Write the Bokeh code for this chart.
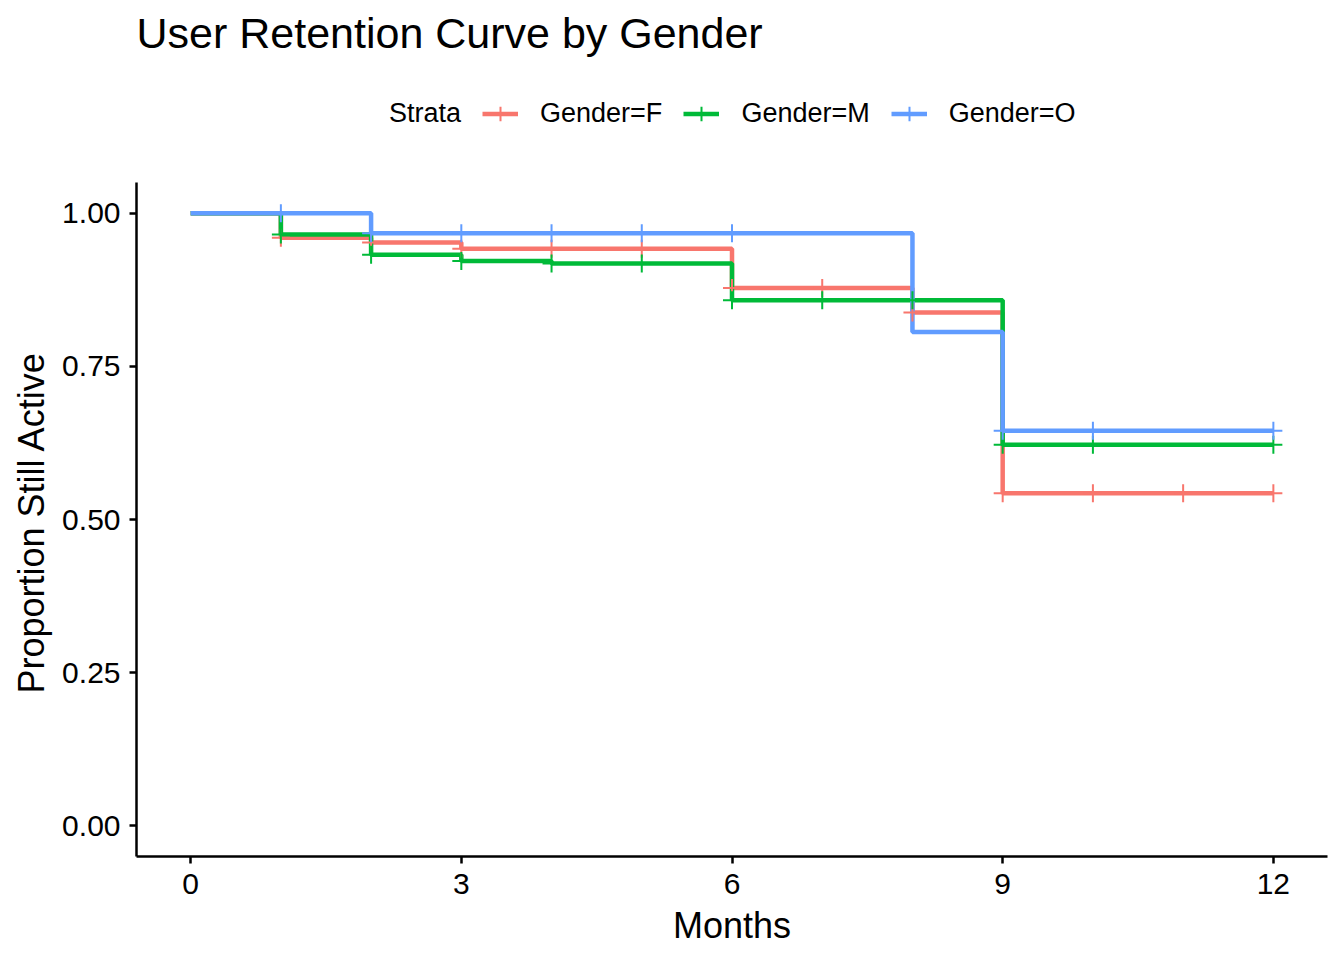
from bokeh.plotting import figure
from bokeh.models import Legend, LegendItem, FixedTicker, PrintfTickFormatter, Range1d, Label, Title
from bokeh.embed import file_html
from bokeh.resources import INLINE

FONT = "Liberation Sans"

title_text = "User Retention Curve by Gender"
x_label = "Months"
y_label = "Proportion Still Active"
legend_title = "Strata"
groups = ["Gender=F", "Gender=M", "Gender=O"]
colors = ["#F8766D", "#00BA38", "#619CFF"]

# step curves (time, survival)
f_time = [0, 1, 2, 3, 6, 8, 9, 12]
f_surv = [1.0, 0.960, 0.952, 0.942, 0.878, 0.838, 0.543, 0.543]
m_time = [0, 1, 2, 3, 4, 6, 9, 12]
m_surv = [1.0, 0.965, 0.932, 0.922, 0.918, 0.858, 0.622, 0.622]
o_time = [0, 2, 8, 9, 12]
o_surv = [1.0, 0.967, 0.806, 0.645, 0.645]

# censor marks
f_cens_time = [1, 2, 3, 4, 5, 6, 7, 8, 9, 10, 11, 12]
f_cens_surv = [0.960, 0.952, 0.942, 0.942, 0.942, 0.878, 0.878, 0.838, 0.543, 0.543, 0.543, 0.543]
m_cens_time = [1, 2, 3, 4, 5, 6, 7, 8, 9, 10, 12]
m_cens_surv = [0.965, 0.932, 0.922, 0.918, 0.918, 0.858, 0.858, 0.858, 0.622, 0.622, 0.622]
o_cens_time = [1, 2, 3, 4, 5, 6, 9, 10, 12]
o_cens_surv = [1.0, 0.967, 0.967, 0.967, 0.967, 0.967, 0.645, 0.645, 0.645]

x_ticks = [0, 3, 6, 9, 12]
y_ticks = [0.0, 0.25, 0.5, 0.75, 1.0]

# layout (pixels)
W, H = 1344, 960
LEFT, RIGHT, BOTTOM = 136, 17, 104
PANEL_TOP = 182                       # top of the data panel
y_lo, y_hi = -0.05, 1.05
frame_h = H - BOTTOM                  # frame runs to the top of the canvas
px_per_unit = (frame_h - PANEL_TOP) / (y_hi - y_lo)
y_end = y_hi + PANEL_TOP / px_per_unit

p = figure(width=W, height=H, output_backend="svg", toolbar_location=None,
           x_range=Range1d(-0.6, 12.6), y_range=Range1d(y_lo, y_end),
           min_border_left=LEFT, min_border_right=RIGHT, min_border_top=0, min_border_bottom=BOTTOM)
p.title.text = ""

curves = [(f_time, f_surv), (m_time, m_surv), (o_time, o_surv)]
cens = [(f_cens_time, f_cens_surv), (m_cens_time, m_cens_surv), (o_cens_time, o_cens_surv)]

lines = []
for (t, s), c in zip(curves, colors):
    lines.append(p.step(t, s, mode="after", line_width=4.5, line_color=c))
marks = []
for (t, s), c in zip(cens, colors):
    marks.append(p.scatter(t, s, marker="cross", size=18, line_width=2, line_color=c))

# invisible placeholder so the legend title sits to the left of the items
blank = p.line([], [], line_alpha=0)

items = [LegendItem(label=legend_title, renderers=[blank])]
items += [LegendItem(label=g, renderers=[l, m]) for g, l, m in zip(groups, lines, marks)]
legend = Legend(items=items, orientation="horizontal", location=(195, frame_h - 113 - 22.5),
                border_line_color=None, background_fill_alpha=0,
                label_text_font=FONT, label_text_font_size="27px", label_text_color="black",
                glyph_width=36, glyph_height=45, label_standoff=22, spacing=21,
                padding=0, margin=0)
p.add_layout(legend, "center")

title = Label(x=0, y=frame_h - 32, x_units="screen", y_units="screen", text=title_text,
              text_font=FONT, text_font_size="43px", text_color="black",
              text_baseline="alphabetic", text_align="left")
p.add_layout(title)

p.xgrid.visible = False
p.ygrid.visible = False
p.outline_line_color = None

for ax in (p.xaxis[0], p.yaxis[0]):
    ax.axis_line_width = 2.5
    ax.axis_line_color = "black"
    ax.major_tick_line_width = 2.5
    ax.major_tick_line_color = "black"
    ax.major_tick_out = 7
    ax.major_tick_in = 0
    ax.minor_tick_line_color = None
    ax.major_label_text_font = FONT
    ax.major_label_text_font_size = "30px"
    ax.major_label_text_color = "black"
    ax.axis_label_text_font = FONT
    ax.axis_label_text_font_size = "36px"
    ax.axis_label_text_font_style = "normal"
    ax.axis_label_text_color = "black"

p.yaxis.bounds = (y_lo, y_hi)
p.xaxis.ticker = FixedTicker(ticks=x_ticks)
p.yaxis.ticker = FixedTicker(ticks=y_ticks)
p.yaxis.formatter = PrintfTickFormatter(format="%.2f")
p.xaxis.axis_label = x_label
p.xaxis.major_label_standoff = 10
p.yaxis.major_label_standoff = 9
p.xaxis.axis_label_standoff = 8

# y-axis title, centred on the data panel rather than on the taller frame
ytitle = Title(text=y_label, align="left", vertical_align="bottom",
               offset=H - BOTTOM - 693, standoff=16,
               text_font=FONT, text_font_size="36px", text_font_style="normal", text_color="black")
p.add_layout(ytitle, "left")

open("out.html", "w").write(file_html(p, INLINE))
